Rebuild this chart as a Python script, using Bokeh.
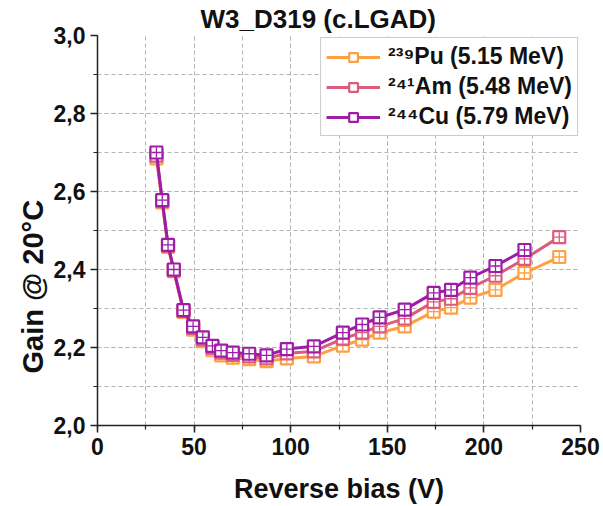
from bokeh.plotting import figure
from bokeh.models import (Range1d, SingleIntervalTicker, CustomJSTickFormatter, Legend,
                          LegendItem, Title, ColumnDataSource)
from bokeh.embed import file_html
from bokeh.resources import INLINE

# ---- data ----
bias = [30.5, 33.5, 36.5, 39.5, 44.5, 49.5, 54.5, 59.5, 64, 70, 78.5, 87.5,
        98, 112, 127, 137, 146, 159, 174, 183, 193, 206, 221, 239]
gain_pu = [2.685, 2.572, 2.458, 2.396, 2.291, 2.246, 2.216, 2.193, 2.180, 2.174, 2.170, 2.165,
           2.172, 2.177, 2.205, 2.220, 2.238, 2.254, 2.292, 2.302, 2.328, 2.348, 2.391, 2.432]
gain_am = [2.692, 2.575, 2.461, 2.398, 2.294, 2.250, 2.221, 2.199, 2.187, 2.181, 2.177, 2.172,
           2.185, 2.190, 2.223, 2.238, 2.254, 2.274, 2.317, 2.325, 2.353, 2.384, 2.427, 2.483]
gain_cu = [2.700, 2.578, 2.463, 2.400, 2.296, 2.254, 2.226, 2.204, 2.192, 2.187, 2.184, 2.180,
           2.196, 2.203, 2.238, 2.259, 2.277, 2.297, 2.340, 2.348, 2.379, 2.409, 2.450]
series_labels = ["\u00b2\u00b3\u2079Pu (5.15 MeV)", "\u00b2\u2074\u00b9Am (5.48 MeV)",
                 "\u00b2\u2074\u2074Cu (5.79 MeV)"]
series_colors = ["#FFA040", "#DB5C7C", "#9E1CA6"]
title_text = "W3_D319 (c.LGAD)"
x_label = "Reverse bias (V)"
y_label = "Gain @ 20\u00b0C"

FONT = "Liberation Sans"

p = figure(width=603, height=506, output_backend="svg", toolbar_location=None,
           x_range=Range1d(0, 250), y_range=Range1d(2.0, 3.0),
           min_border_left=97, min_border_right=23, min_border_top=34, min_border_bottom=81)
p.background_fill_color = "white"
p.border_fill_color = "white"
p.outline_line_color = None

# title
p.title.text = title_text
p.title.align = "left"
p.title.offset = 103
p.title.standoff = 3
p.title.text_font = FONT
p.title.text_font_size = "26px"
p.title.text_font_style = "bold"
p.title.text_color = "#111111"

# axes
xticker = SingleIntervalTicker(interval=50, num_minor_ticks=2)
yticker = SingleIntervalTicker(interval=0.2, num_minor_ticks=2)
p.xaxis.ticker = xticker
p.yaxis.ticker = yticker
p.yaxis.formatter = CustomJSTickFormatter(code="return tick.toFixed(1).replace('.', ',');")
for ax in (p.xaxis[0], p.yaxis[0]):
    ax.axis_line_color = "#222222"
    ax.axis_line_width = 1.5
    ax.major_tick_line_color = "#222222"
    ax.minor_tick_line_color = "#222222"
    ax.major_tick_line_width = 1.5
    ax.minor_tick_line_width = 1.2
    ax.major_tick_out = 7
    ax.major_tick_in = 0
    ax.minor_tick_out = 4
    ax.minor_tick_in = 0
    ax.major_label_text_font = FONT
    ax.major_label_text_font_size = "23px"
    ax.major_label_text_font_style = "bold"
    ax.major_label_text_color = "#111111"
    ax.major_label_standoff = 5
p.xaxis.axis_label = x_label
p.xaxis.axis_label_text_font = FONT
p.xaxis.axis_label_text_font_size = "27px"
p.xaxis.axis_label_text_font_style = "bold"
p.xaxis.axis_label_text_color = "#111111"
p.xaxis.axis_label_standoff = 16

ytitle = Title(text=y_label, align="left", offset=52, standoff=4,
               text_font=FONT, text_font_size="29px", text_font_style="bold",
               text_color="#111111")
p.add_layout(ytitle, "left")

# grids (dashed, major and minor)
p.xgrid[0].ticker = xticker
p.ygrid[0].ticker = yticker
for g in (p.xgrid[0], p.ygrid[0]):
    g.grid_line_color = "#b4b4b4"
    g.grid_line_alpha = 1.0
    g.grid_line_dash = "4 3"
    g.grid_line_width = 1
    g.minor_grid_line_color = "#b4b4b4"
    g.minor_grid_line_alpha = 1.0
    g.minor_grid_line_dash = "4 3"
    g.minor_grid_line_width = 1

items = []
for gains, lab, col in zip([gain_pu, gain_am, gain_cu], series_labels, series_colors):
    src = ColumnDataSource(dict(x=bias[:len(gains)], y=gains))
    ln = p.line("x", "y", source=src, line_color=col, line_width=3)
    sq = p.scatter("x", "y", source=src, marker="square", size=12, line_color=col,
                   line_width=2.2, fill_color="white")
    p.scatter("x", "y", source=src, marker="cross", size=10, line_color=col, line_width=1.3)
    items.append(LegendItem(label=lab, renderers=[ln, sq]))

legend = Legend(items=items, location="top_right")
legend.label_text_font = FONT
legend.label_text_font_size = "23px"
legend.label_text_font_style = "bold"
legend.label_text_color = "#111111"
legend.glyph_width = 54
legend.glyph_height = 22
legend.label_standoff = 8
legend.spacing = 3
legend.padding = 5
legend.margin = 2
legend.border_line_color = "#999999"
legend.border_line_width = 1
legend.background_fill_color = "white"
legend.background_fill_alpha = 1
p.add_layout(legend)

open("out.html", "w").write(file_html(p, INLINE))
